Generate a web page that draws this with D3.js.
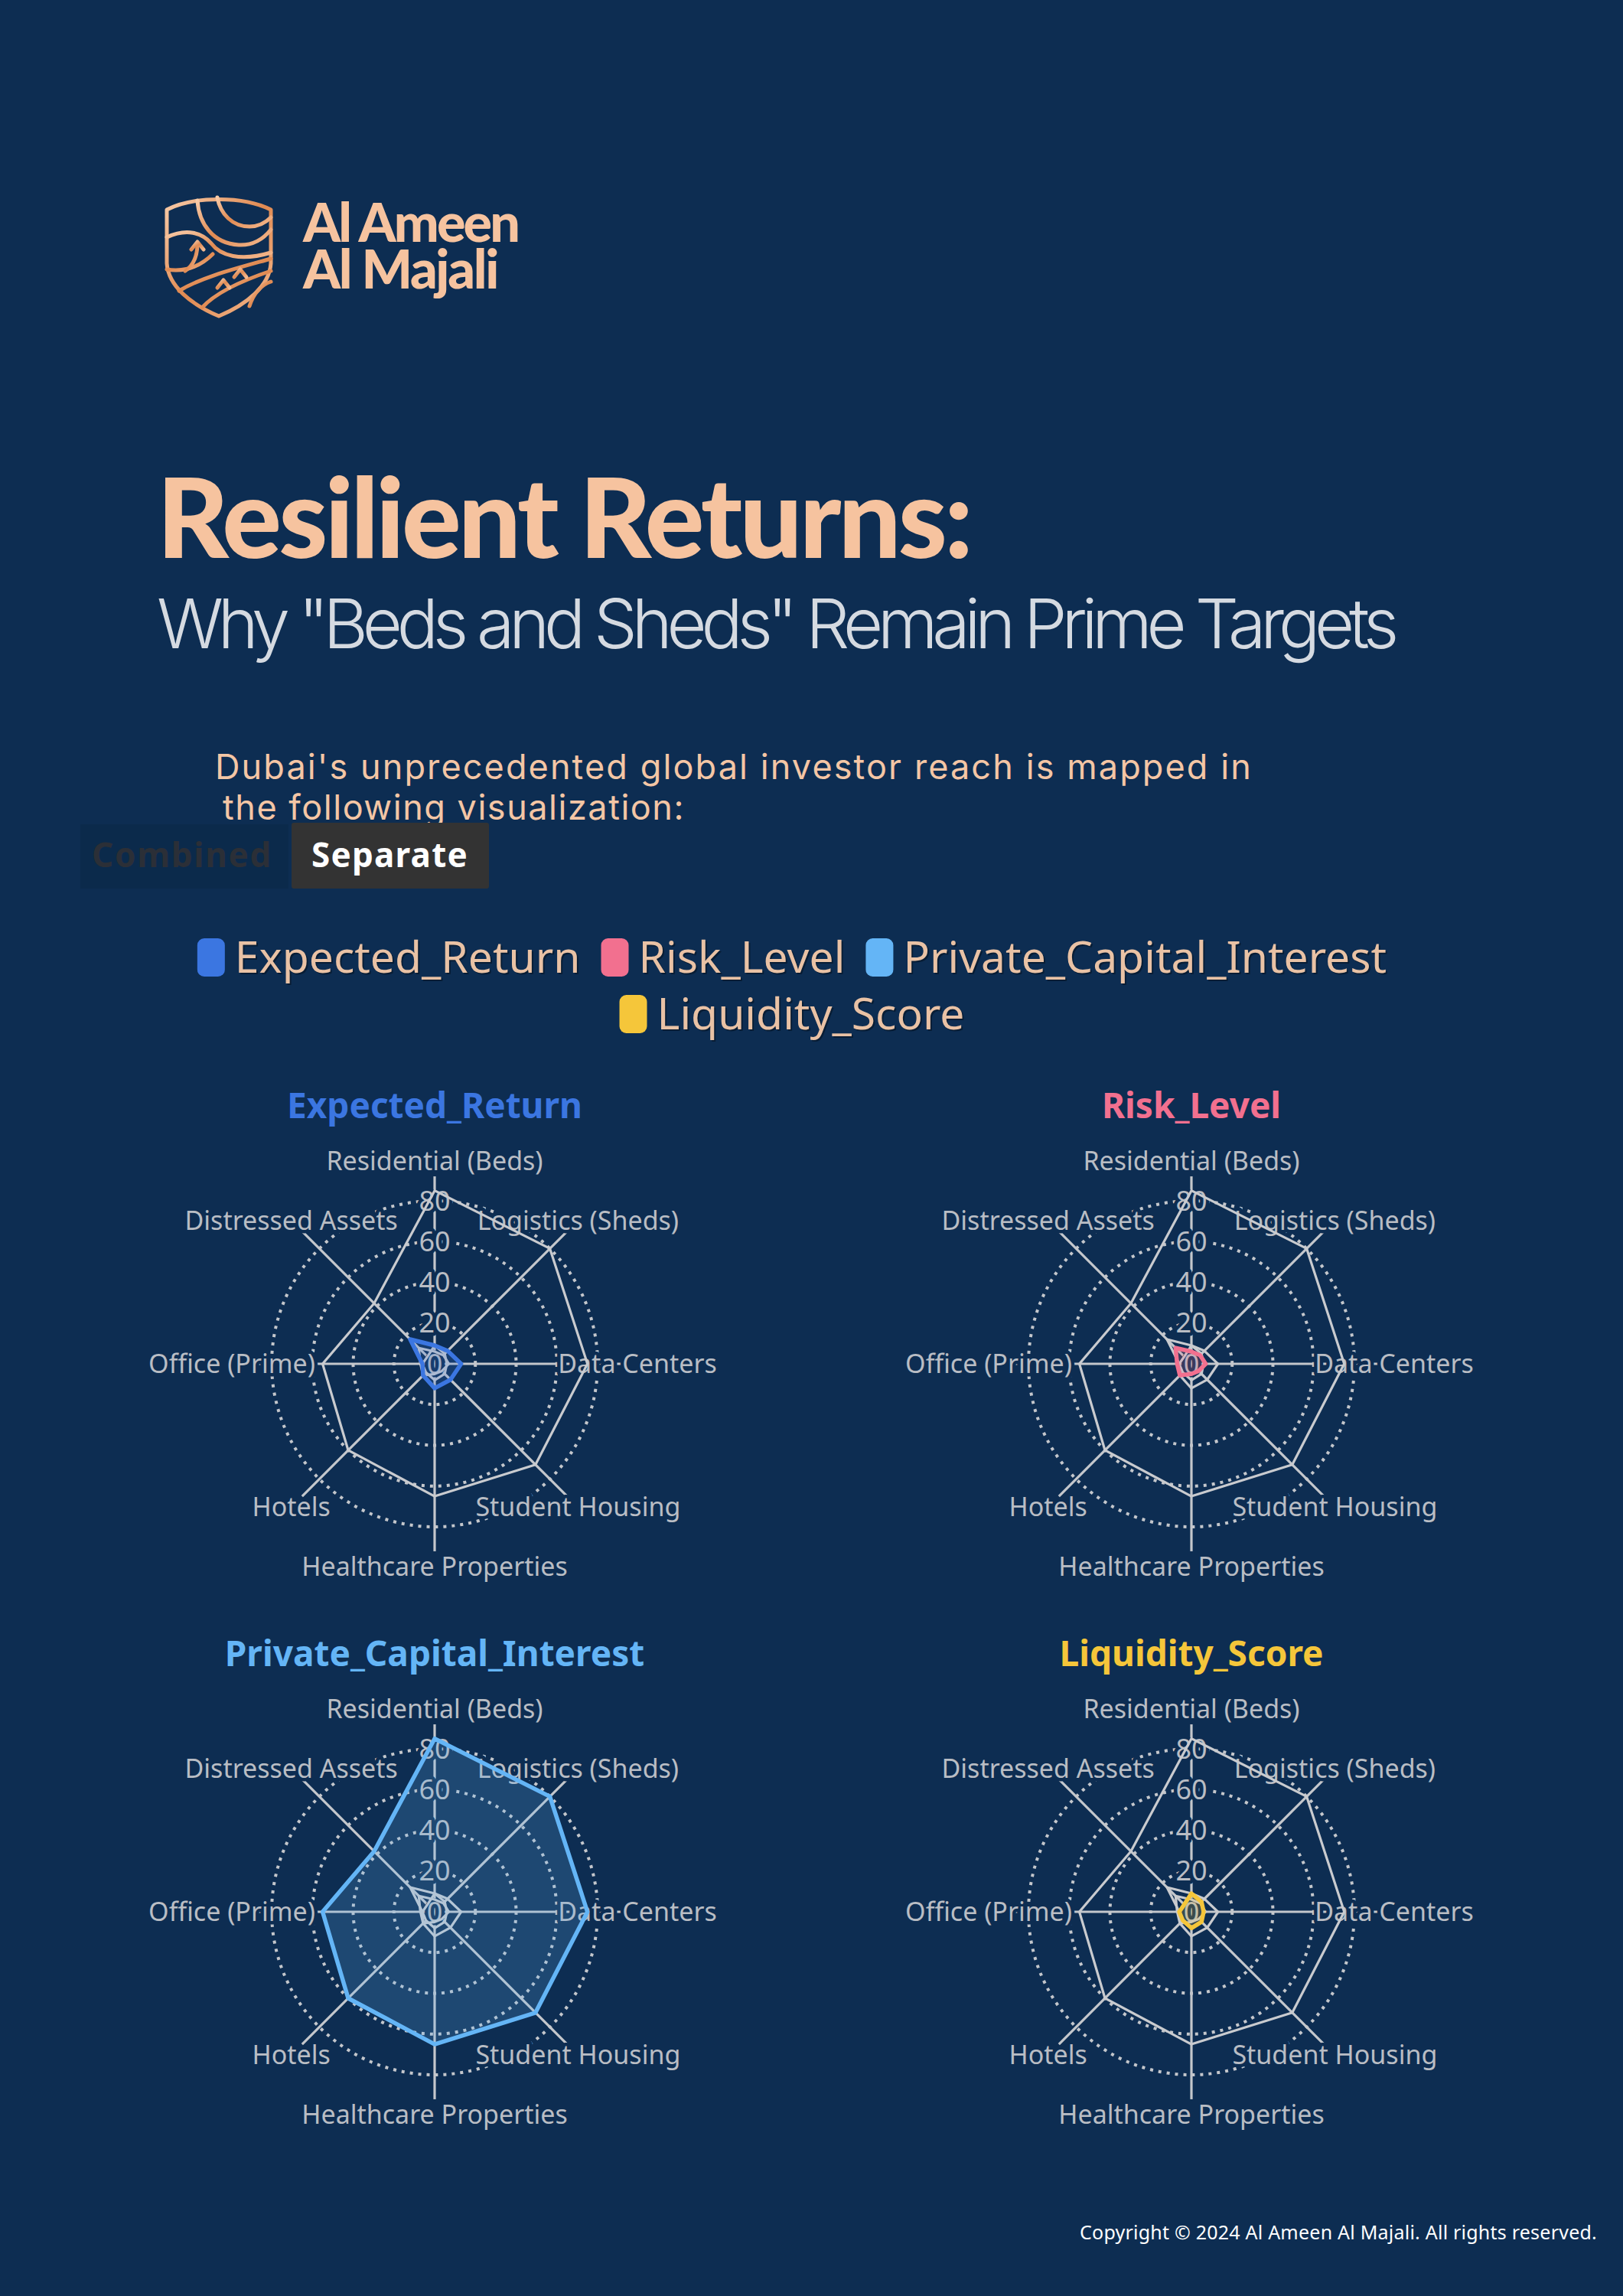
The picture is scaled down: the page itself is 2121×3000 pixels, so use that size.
<!DOCTYPE html>
<html>
<head>
<meta charset="utf-8">
<script src="https://cdn.jsdelivr.net/npm/d3@7"></script>
<style>
    body { margin: 0; background: #0d2d52; }
    svg { display: block; }
</style>
</head>
<body>
<svg id="page" width="2121" height="3000"></svg>
<script>
// clockwise from the top
const categories = ["Residential (Beds)", "Logistics (Sheds)", "Data Centers", "Student Housing",
    "Healthcare Properties", "Hotels", "Office (Prime)", "Distressed Assets"];

const seriesNames = ["Expected_Return", "Risk_Level", "Private_Capital_Interest", "Liquidity_Score"];
const expectedReturn = [9, 9, 13, 11, 12, 8, 6, 17];
const riskLevel = [6, 6, 7, 5, 5, 8, 7, 11];
const privateCapitalInterest = [85, 80, 75, 70, 65, 60, 55, 42];
const liquidityScore = [9, 7, 6, 7, 8, 6, 6, 5];
const seriesColors = ["#3b76e1", "#f2708f", "#64b5f6", "#f5c63a"];

const radialTicks = [0, 20, 40, 60, 80];

const seriesValues = [expectedReturn, riskLevel, privateCapitalInterest, liquidityScore];

const bgColor = "#0d2d52";
const gridColor = "#c4c7cc";
const otherSeriesColor = "#c9cbcf";
const labelColor = "#b9bdc4";
const peach = "#f6c39f";

const svg = d3.select('#page');

svg.append("rect")
    .attr("width", 2121)
    .attr("height", 3000)
    .attr("fill", bgColor);

// stretch or squeeze the letter spacing so a text ends up the wanted width
const fitWidth = function(sel, target) {
    const n = sel.text().length;
    const w = sel.node().getComputedTextLength();
    sel.attr("letter-spacing", (target - w) / n);
    return sel;
}

const renderLogo = function() {
    const defs = svg.append("defs");
    const grad = defs.append("linearGradient")
        .attr("id", "copper")
        .attr("x1", 0).attr("y1", 0)
        .attr("x2", 1).attr("y2", 1);
    grad.append("stop").attr("offset", 0).attr("stop-color", "#f8cba8");
    grad.append("stop").attr("offset", 0.5).attr("stop-color", "#e08a52");
    grad.append("stop").attr("offset", 1).attr("stop-color", "#f4b98f");

    const logo = svg.append("g").attr("transform", "translate(214,252)");
    const strokes = [
        "M4,22 C40,4 104,4 140,22 L140,92 C138,122 108,146 72,161 C36,146 6,122 4,92 Z",
        "M44,10 C46,40 64,66 98,68 C118,69 132,58 140,48",
        "M70,6 C74,28 90,44 112,44 C124,44 134,38 140,32",
        "M4,58 C30,46 50,52 62,66 C74,82 100,90 140,78",
        "M4,100 C30,104 50,94 64,80",
        "M20,128 C50,110 90,100 140,86",
        "M50,150 C70,128 110,112 140,102",
        "M112,148 C118,130 128,120 140,116",
        "M28,102 C40,94 44,82 44,66", "M36,74 L44,64 L52,74",
        "M78,152 L78,116", "M70,124 L78,114 L86,124",
        "M100,140 L100,102", "M92,110 L100,100 L108,110"
    ];
    logo.selectAll(null)
        .data(strokes)
        .enter()
        .append("path")
        .attr("d", d => d)
        .attr("fill", "none")
        .attr("stroke", "url(#copper)")
        .attr("stroke-width", 5)
        .attr("stroke-linejoin", "round")
        .attr("stroke-linecap", "round");

    fitWidth(svg.append("text")
        .attr("x", 396).attr("y", 316)
        .attr("font-family", "Lato").attr("font-weight", 900).attr("font-size", 70)
        .attr("fill", peach)
        .text("Al Ameen"), 281);
    fitWidth(svg.append("text")
        .attr("x", 396).attr("y", 377)
        .attr("font-family", "Lato").attr("font-weight", 900).attr("font-size", 70)
        .attr("fill", peach)
        .text("Al Majali"), 254);
}

const renderHeader = function() {
    fitWidth(svg.append("text")
        .attr("x", 205).attr("y", 729)
        .attr("font-family", "Lato").attr("font-weight", 900).attr("font-size", 145)
        .attr("fill", peach)
        .text("Resilient Returns:"), 1063);
    fitWidth(svg.append("text")
        .attr("x", 205).attr("y", 847)
        .attr("font-family", "Inter").attr("font-weight", 300).attr("font-size", 90)
        .attr("fill", "#d5dae1")
        .text("Why \"Beds and Sheds\" Remain Prime Targets"), 1616);

    fitWidth(svg.append("text")
        .attr("x", 281).attr("y", 1018)
        .attr("font-family", "Inter").attr("font-size", 45)
        .attr("fill", "#f4c6a5")
        .text("Dubai's unprecedented global investor reach is mapped in"), 1356);
    fitWidth(svg.append("text")
        .attr("x", 291).attr("y", 1071)
        .attr("font-family", "Inter").attr("font-size", 45)
        .attr("fill", "#f4c6a5")
        .text("the following visualization:"), 604);

    // view toggle
    svg.append("rect")
        .attr("x", 105).attr("y", 1077)
        .attr("width", 272).attr("height", 84)
        .attr("fill", "#0b2a4b");
    fitWidth(svg.append("text")
        .attr("x", 120).attr("y", 1133)
        .attr("font-family", "Noto Sans").attr("font-weight", 700).attr("font-size", 44)
        .attr("fill", "#2b2f37")
        .text("Combined"), 236);
    svg.append("rect")
        .attr("x", 381).attr("y", 1075)
        .attr("width", 258).attr("height", 86)
        .attr("rx", 3)
        .attr("fill", "#333333");
    fitWidth(svg.append("text")
        .attr("x", 407).attr("y", 1133)
        .attr("font-family", "Noto Sans").attr("font-weight", 700).attr("font-size", 44)
        .attr("fill", "#ffffff")
        .text("Separate"), 205);
}

const renderLegend = function() {
    const rows = [[0, 1, 2], [3]];
    const rowY = [1251, 1325];
    const legendCenter = 1035;
    const swatchW = 36, swatchH = 50, swatchGap = 13, itemGap = 27;

    rows.forEach(function(row, r) {
        const g = svg.append("g");
        let x = 0;
        row.forEach(function(s) {
            g.append("rect")
                .attr("x", x).attr("y", rowY[r] - swatchH / 2)
                .attr("width", swatchW).attr("height", swatchH)
                .attr("rx", 9)
                .attr("fill", seriesColors[s]);
            g.append("text")
                .attr("x", x + swatchW + swatchGap + 2).attr("y", rowY[r] + 2)
                .attr("dy", "0.35em")
                .attr("font-family", "Noto Sans").attr("font-size", 57)
                .attr("fill", "#000000").attr("opacity", 0.35)
                .text(seriesNames[s]);
            const label = g.append("text")
                .attr("x", x + swatchW + swatchGap).attr("y", rowY[r])
                .attr("dy", "0.35em")
                .attr("font-family", "Noto Sans").attr("font-size", 57)
                .attr("fill", "#e9c2a5")
                .text(seriesNames[s]);
            x += swatchW + swatchGap + label.node().getComputedTextLength() + itemGap;
        });
        const rowWidth = x - itemGap;
        g.attr("transform", `translate(${legendCenter - rowWidth / 2},0)`);
    });
}

const angleScale = d3.scaleLinear().domain([0, categories.length]).range([0, 2 * Math.PI]);
const rScale = d3.scaleLinear().domain([0, 80]).range([0, 213]);
const axisMax = 92;
const labelRadius = 265;

const radarLine = d3.lineRadial()
    .angle((d, i) => angleScale(i))
    .radius(d => rScale(d))
    .curve(d3.curveLinearClosed);

const addHalo = function(sel) {
    return sel.attr("stroke", bgColor)
        .attr("stroke-width", 9)
        .attr("stroke-linejoin", "round")
        .attr("paint-order", "stroke");
}

const renderRadar = function(featured, cx, cy) {
    const g = svg.append("g").attr("transform", `translate(${cx},${cy})`);

    g.selectAll(null)
        .data(radialTicks.filter(t => t > 0))
        .enter()
        .append("circle")
        .attr("r", d => rScale(d))
        .attr("fill", "none")
        .attr("stroke", gridColor)
        .attr("stroke-width", 4)
        .attr("stroke-dasharray", "4 7");

    g.selectAll(null)
        .data(categories)
        .enter()
        .append("line")
        .attr("x2", (d, i) => d3.pointRadial(angleScale(i), rScale(axisMax))[0])
        .attr("y2", (d, i) => d3.pointRadial(angleScale(i), rScale(axisMax))[1])
        .attr("stroke", gridColor)
        .attr("stroke-width", 3.2);

    addHalo(g.selectAll(null)
        .data(radialTicks)
        .enter()
        .append("text")
        .attr("y", d => -rScale(d))
        .attr("dy", "0.35em")
        .attr("text-anchor", "middle")
        .attr("font-family", "Noto Sans")
        .attr("font-size", 36)
        .attr("fill", labelColor)
        .text(d => d));

    addHalo(g.selectAll(null)
        .data(categories)
        .enter()
        .append("text")
        .attr("x", (d, i) => d3.pointRadial(angleScale(i), labelRadius)[0])
        .attr("y", (d, i) => d3.pointRadial(angleScale(i), labelRadius)[1])
        .attr("dy", "0.35em")
        .attr("text-anchor", "middle")
        .attr("font-family", "Noto Sans")
        .attr("font-size", 34)
        .attr("fill", labelColor)
        .text(d => d));

    seriesValues.forEach(function(values, s) {
        if (s === featured) return;
        g.append("path")
            .attr("d", radarLine(values))
            .attr("fill", "none")
            .attr("stroke", otherSeriesColor)
            .attr("stroke-width", 3.2)
            .attr("stroke-linejoin", "round");
    });

    g.append("path")
        .attr("d", radarLine(seriesValues[featured]))
        .attr("fill", seriesColors[featured])
        .attr("fill-opacity", 0.2)
        .attr("stroke", seriesColors[featured])
        .attr("stroke-width", 5.5)
        .attr("stroke-linejoin", "round");

    g.append("text")
        .attr("y", -321)
        .attr("text-anchor", "middle")
        .attr("font-family", "Noto Sans")
        .attr("font-weight", 700)
        .attr("font-size", 46)
        .attr("fill", seriesColors[featured])
        .text(seriesNames[featured]);
}

renderLogo();
renderHeader();
renderLegend();

const panelCenters = [[568, 1782], [1557, 1782], [568, 2498], [1557, 2498]];
seriesNames.forEach(function(name, s) {
    renderRadar(s, panelCenters[s][0], panelCenters[s][1]);
});

fitWidth(svg.append("text")
    .attr("x", 1411).attr("y", 2926)
    .attr("font-family", "Noto Sans").attr("font-size", 25)
    .attr("fill", "#ffffff")
    .text("Copyright © 2024 Al Ameen Al Majali. All rights reserved."), 676);
</script>
</body>
</html>
